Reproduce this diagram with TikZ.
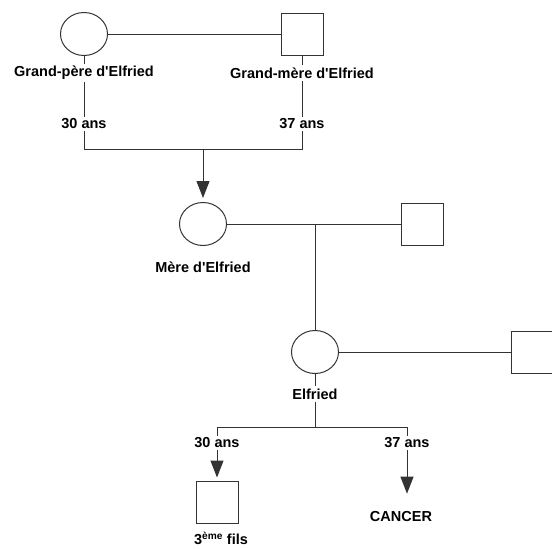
\documentclass[tikz,border=0pt]{standalone}
\usepackage{fontspec}
\setmainfont{Liberation Sans}
\usetikzlibrary{arrows.meta,shapes.geometric}

\begin{document}
\begin{tikzpicture}[x=1pt,y=-1pt,
    trazo/.style={draw=black!80,line width=1pt},
    mujer/.style={trazo,ellipse,minimum width=47pt,minimum height=43pt,inner sep=0pt},
    hombre/.style={trazo,rectangle,minimum size=42pt,inner sep=0pt},
    etiq/.style={font=\fontsize{14.5}{16}\selectfont\bfseries,inner sep=2pt},
    flecha/.style={trazo,-{Triangle[length=17pt,width=13pt]}}]
    \useasboundingbox (0,0) rectangle (552,549);

    % Abuelos
    \node[mujer] (gp) at (84,34) {};
    \node[hombre] (gm) at (302,34) {};
    \node[etiq] (lgp) at (84,73) {Grand-père d\textquotesingle Elfried};
    \node[etiq] (lgm) at (302,73) {Grand-mère d\textquotesingle Elfried};
    \node[etiq] (a30) at (84,124) {30 ans};
    \node[etiq] (a37) at (302,124) {37 ans};
    \coordinate (j1) at (84,149);
    \coordinate (j2) at (302,149);
    \coordinate (jm) at (203,149);

    % Madre
    \node[mujer] (mere) at (203,224) {};
    \node[hombre] (pmere) at (422,224) {};
    \node[etiq] (lmere) at (203,267) {Mère d\textquotesingle Elfried};
    \coordinate (jm2) at (315,224);

    % Elfried
    \node[mujer] (elf) at (315,352) {};
    \node[hombre] (pelf) at (532,352) {};
    \node[etiq] (lelf) at (315,394) {Elfried};
    \coordinate (j3) at (315,427);
    \coordinate (j4) at (217,427);
    \coordinate (j5) at (407,427);
    \node[etiq] (b30) at (217,443) {30 ans};
    \node[etiq] (b37) at (407,443) {37 ans};

    % Hijos
    \node[hombre] (fils) at (217,502) {};
    \node[etiq] (lfils) at (221,538) {3\textsuperscript{ème} fils};
    \node[etiq] (cancer) at (401,517) {CANCER};

    % Lineas
    \draw[trazo] (gp) -- (gm);
    \draw[trazo] (gp) -- (lgp) -- (a30) -- (j1) -- (j2) -- (a37) -- (lgm) -- (gm);
    \draw[flecha,shorten >=4pt] (jm) -- (mere);
    \draw[trazo] (mere) -- (pmere);
    \draw[trazo] (jm2) -- (elf);
    \draw[trazo] (elf) -- (pelf);
    \draw[trazo] (elf) -- (lelf) -- (j3);
    \draw[trazo] (j4) -- (j5);
    \draw[trazo] (j4) -- (b30);
    \draw[trazo] (j5) -- (b37);
    \draw[flecha,shorten >=3pt] (b30) -- (fils);
    \draw[flecha,shorten >=16pt] (b37) -- (b37 |- cancer.north);

\end{tikzpicture}
\end{document}
